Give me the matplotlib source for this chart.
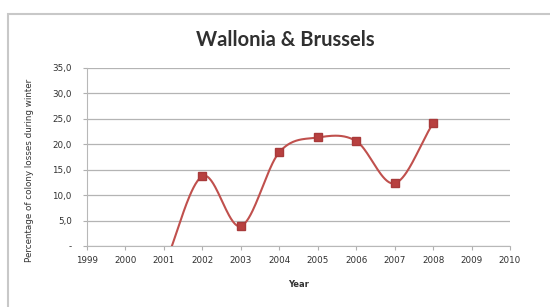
import numpy as np
import matplotlib.pyplot as plt
from matplotlib.patches import Rectangle

years = [1999, 2000, 2001, 2002, 2003, 2004, 2005, 2006, 2007, 2008, 2009, 2010]
data_years = [2001, 2002, 2003, 2004, 2005, 2006, 2007, 2008]
losses = [-4.2, 13.7, 3.9, 18.4, 21.3, 20.6, 12.3, 24.1]
y_ticks = [0, 5, 10, 15, 20, 25, 30, 35]
y_labels = ['-', '5,0', '10,0', '15,0', '20,0', '25,0', '30,0', '35,0']


def smooth(x, y, n=40):
    # catmull-rom like the excel "smoothed line"
    x = np.asarray(x, float)
    y = np.asarray(y, float)
    px = np.concatenate([[2 * x[0] - x[1]], x, [2 * x[-1] - x[-2]]])
    py = np.concatenate([[2 * y[0] - y[1]], y, [2 * y[-1] - y[-2]]])
    xs, ys = [], []
    for i in range(1, len(px) - 2):
        p0x, p1x, p2x, p3x = px[i - 1:i + 3]
        p0y, p1y, p2y, p3y = py[i - 1:i + 3]
        c1x, c1y = p1x + (p2x - p0x) / 6, p1y + (p2y - p0y) / 6
        c2x, c2y = p2x - (p3x - p1x) / 6, p2y - (p3y - p1y) / 6
        t = np.linspace(0, 1, n)
        b0, b1, b2, b3 = (1 - t) ** 3, 3 * t * (1 - t) ** 2, 3 * t ** 2 * (1 - t), t ** 3
        xs.append(b0 * p1x + b1 * c1x + b2 * c2x + b3 * p2x)
        ys.append(b0 * p1y + b1 * c1y + b2 * c2y + b3 * p2y)
    return np.concatenate(xs), np.concatenate(ys)


fig = plt.figure(figsize=(5.5, 3.07), dpi=100)
fig.patches.append(Rectangle((8 / 550, -0.1), 1.2, 1 - 14 / 307 + 0.1,
                             transform=fig.transFigure, fill=False,
                             edgecolor='#c8c8c8', linewidth=1.5))

ax = fig.add_axes([87 / 550, 1 - 246 / 307, 423 / 550, 178.3 / 307])

sx, sy = smooth(data_years, losses)
ax.plot(sx, sy, color='#c0504d', linewidth=1.5, zorder=3)
ax.plot(data_years[1:], losses[1:], linestyle='none', marker='s',
        markersize=5.3, color='#b8403f', markeredgecolor='#a83a3a', zorder=4)

ax.set_xlim(years[0], years[-1])
ax.set_ylim(0, 35)
ax.set_xticks(years)
ax.set_xticklabels([str(y) for y in years], fontsize=6.3, color='#303030')
ax.set_yticks(y_ticks)
ax.set_yticklabels(y_labels, fontsize=6.3, color='#303030')
ax.tick_params(axis='x', length=3, color='#b0b0b0', pad=4)
ax.tick_params(axis='y', length=3, color='#b0b0b0', pad=8)
ax.grid(axis='y', color='#b4b4b4', linewidth=0.9)
ax.set_axisbelow(True)
for s in ['top', 'right']:
    ax.spines[s].set_visible(False)
ax.spines['left'].set_color('#b8b8b8')
ax.spines['bottom'].set_color('#b8b8b8')

fig.text(285 / 550, 1 - 40 / 307, 'Wallonia & Brussels', fontsize=14.5,
         fontweight='bold', family='Lato', color='#303030',
         ha='center', va='center')
ax.set_xlabel('Year', fontsize=6, fontweight='bold', color='#333333', labelpad=11)
ax.set_ylabel('Percentage of colony losses during winter', fontsize=6.3,
              color='#333333')
ax.yaxis.set_label_coords(-53 / 423, (246 - 170) / 178.3)

fig.savefig('out.png', dpi=100)
